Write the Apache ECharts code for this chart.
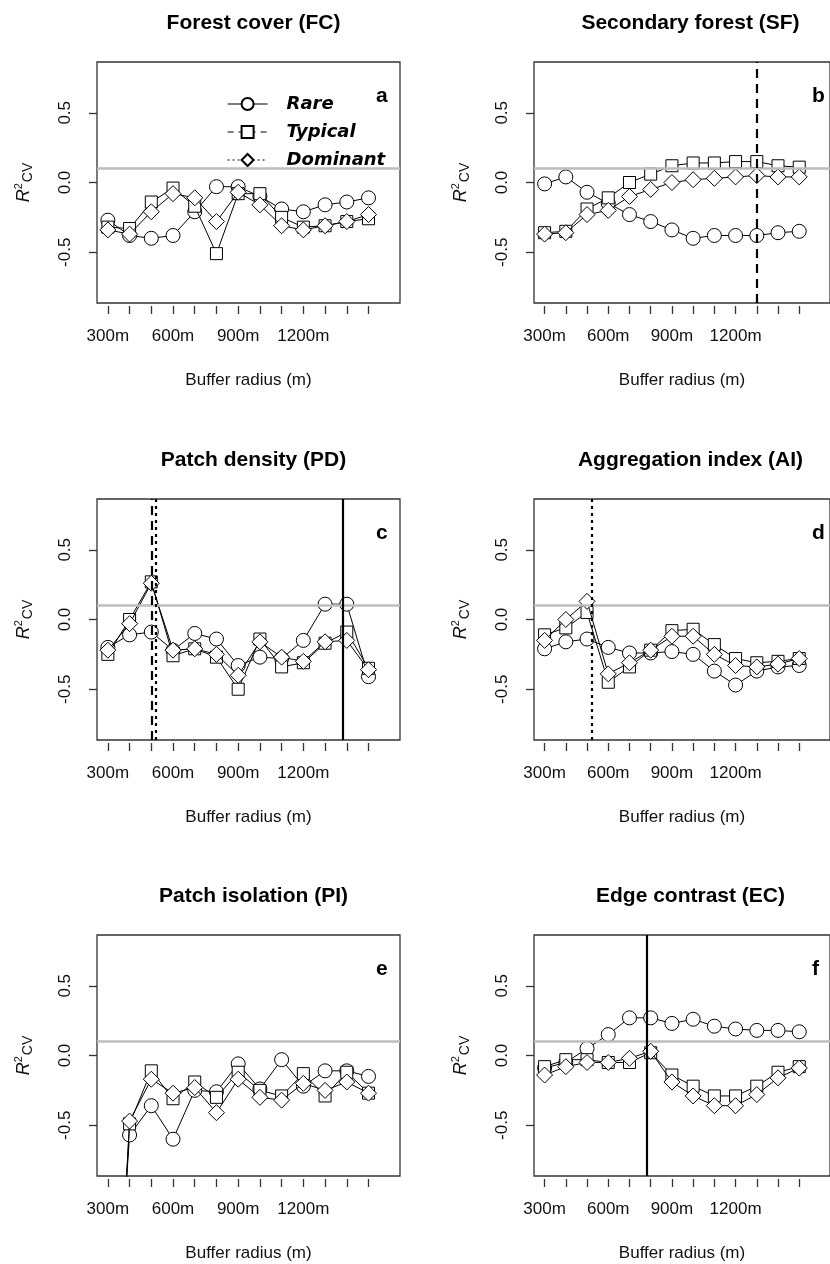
<!DOCTYPE html>
<html><head><meta charset="utf-8">
<script src="https://cdn.jsdelivr.net/npm/echarts@6/dist/echarts.min.js"></script>
<style>html,body{margin:0;padding:0;background:#fff}#c{width:830px;height:1264px}</style>
</head><body><div id="c"></div>
<script>
// ---------- data ----------
const radii = [300,400,500,600,700,800,900,1000,1100,1200,1300,1400,1500];
const xTickValues = [300,400,500,600,700,800,900,1000,1100,1200,1300,1400,1500];
const xLabelValues = [300,600,900,1200];
const yTickValues = [-0.5,0,0.5];
const panelTitles = ['Forest cover (FC)','Secondary forest (SF)','Patch density (PD)','Aggregation index (AI)','Patch isolation (PI)','Edge contrast (EC)'];
const panelLetters = ['a','b','c','d','e','f'];
const seriesNames = ['Rare','Typical','Dominant'];
const threshold = 0.1;

const fcRare     = [-0.27,-0.38,-0.40,-0.38,-0.21,-0.03,-0.03,-0.10,-0.19,-0.21,-0.16,-0.14,-0.11];
const fcTypical  = [-0.32,-0.33,-0.14,-0.04,-0.17,-0.51,-0.08,-0.08,-0.25,-0.32,-0.31,-0.28,-0.26];
const fcDominant = [-0.34,-0.37,-0.21,-0.08,-0.11,-0.28,-0.07,-0.16,-0.31,-0.34,-0.31,-0.28,-0.23];

const sfRare     = [-0.01,0.04,-0.07,-0.15,-0.23,-0.28,-0.34,-0.40,-0.38,-0.38,-0.38,-0.36,-0.35];
const sfTypical  = [-0.36,-0.35,-0.19,-0.11,0.00,0.06,0.12,0.14,0.14,0.15,0.15,0.12,0.11];
const sfDominant = [-0.37,-0.36,-0.23,-0.20,-0.10,-0.05,0.00,0.02,0.03,0.04,0.05,0.04,0.04];

const pdRare     = [-0.20,-0.11,-0.09,-0.22,-0.10,-0.14,-0.33,-0.27,-0.28,-0.15,0.11,0.11,-0.41];
const pdTypical  = [-0.25,0.00,0.27,-0.26,-0.21,-0.27,-0.50,-0.14,-0.34,-0.31,-0.17,-0.09,-0.35];
const pdDominant = [-0.22,-0.03,0.26,-0.22,-0.21,-0.25,-0.40,-0.16,-0.27,-0.30,-0.16,-0.15,-0.36];

const aiRare     = [-0.21,-0.16,-0.14,-0.20,-0.24,-0.24,-0.23,-0.25,-0.37,-0.47,-0.37,-0.34,-0.33];
const aiTypical  = [-0.11,-0.06,0.05,-0.45,-0.34,-0.22,-0.08,-0.07,-0.18,-0.28,-0.31,-0.30,-0.28];
const aiDominant = [-0.15,0.00,0.13,-0.39,-0.31,-0.22,-0.12,-0.12,-0.25,-0.33,-0.34,-0.32,-0.28];

const piRare     = [-2.9,-0.57,-0.36,-0.60,-0.25,-0.26,-0.06,-0.24,-0.03,-0.22,-0.11,-0.11,-0.15];
const piTypical  = [-3.3,-0.49,-0.11,-0.31,-0.19,-0.30,-0.12,-0.25,-0.29,-0.13,-0.29,-0.12,-0.27];
const piDominant = [-3.3,-0.47,-0.17,-0.27,-0.23,-0.41,-0.17,-0.30,-0.32,-0.20,-0.25,-0.19,-0.27];

const ecRare     = [-0.09,-0.05,0.05,0.15,0.27,0.27,0.23,0.26,0.21,0.19,0.18,0.18,0.17];
const ecTypical  = [-0.08,-0.03,-0.03,-0.05,-0.05,0.02,-0.14,-0.22,-0.29,-0.29,-0.22,-0.12,-0.08];
const ecDominant = [-0.14,-0.08,-0.05,-0.05,-0.02,0.03,-0.19,-0.29,-0.36,-0.36,-0.28,-0.16,-0.09];

// best buffer (vertical lines): [rare (solid), typical (dashed), dominant (dotted)]
const bestFC = [null,null,null];
const bestSF = [null,1300,null];
const bestPD = [1380,500,520];
const bestAI = [null,null,520];
const bestPI = [null,null,null];
const bestEC = [780,null,null];

const panelData = [
  [fcRare,fcTypical,fcDominant],
  [sfRare,sfTypical,sfDominant],
  [pdRare,pdTypical,pdDominant],
  [aiRare,aiTypical,aiDominant],
  [piRare,piTypical,piDominant],
  [ecRare,ecTypical,ecDominant]
];
const panelBest = [bestFC,bestSF,bestPD,bestAI,bestPI,bestEC];

// ---------- layout / style ----------
const colLeft = [97,534];
const rowTop = [62,499,935];
const gW = 303, gH = 241;
const X_MIN = 250, X_MAX = 1645, Y_MIN = -0.864, Y_MAX = 0.864;
const symbols = ['circle','rect','diamond'];
const symSizes = [14,12,16];
const vlineTypes = ['solid',[9,6],[3,4]];
const FONT = 'Liberation Sans, Arial, sans-serif';

const grids=[], xAxes=[], yAxes=[], series=[], titles=[], graphics=[];
for (let p=0;p<6;p++){
  const col = p%2, row = Math.floor(p/2);
  const L = colLeft[col], T = rowTop[row];
  grids.push({left:L, top:T, width:gW, height:gH, show:true, borderColor:'#333', borderWidth:1.3, backgroundColor:'transparent', containLabel:false});
  xAxes.push({
    type:'value', gridIndex:p, min:X_MIN, max:X_MAX, offset:3, position:'bottom',
    axisLine:{show:false, onZero:false}, splitLine:{show:false},
    axisTick:{show:true, length:8, lineStyle:{color:'#333',width:1.3}, customValues:xTickValues},
    axisLabel:{show:true, customValues:xLabelValues, formatter:v=>v+'m', fontSize:17, color:'#111', fontFamily:FONT, margin:22},
    name:'Buffer radius (m)', nameLocation:'middle', nameGap:66,
    nameTextStyle:{fontSize:17, color:'#111', fontFamily:FONT}
  });
  yAxes.push({
    type:'value', gridIndex:p, min:Y_MIN, max:Y_MAX, position:'left',
    axisLine:{show:false, onZero:false}, splitLine:{show:false},
    axisTick:{show:true, length:8, lineStyle:{color:'#333',width:1.3}, customValues:yTickValues},
    axisLabel:{show:true, customValues:yTickValues, rotate:90, fontSize:17, color:'#111', fontFamily:FONT, margin:23,
      formatter:v=>v.toFixed(1)},
    name:'{r|R}{sup|2}{sub|CV}', nameLocation:'middle', nameRotate:90, nameGap:62,
    nameTextStyle:{fontFamily:FONT, color:'#111', rich:{
      r:{fontSize:18, fontStyle:'italic', fontFamily:FONT, color:'#111', verticalAlign:'middle', lineHeight:22},
      sup:{fontSize:11, fontFamily:FONT, color:'#111', verticalAlign:'top', padding:[0,0,6,0]},
      sub:{fontSize:14, fontFamily:FONT, color:'#111', verticalAlign:'bottom', padding:[6,0,0,1]}
    }}
  });
  titles.push({text:panelTitles[p], left:L+gW/2, top:T-54, textAlign:'center',
    textStyle:{fontSize:21, fontWeight:'bold', color:'#000', fontFamily:FONT}});
  // reference lines series (threshold below data)
  series.push({
    type:'line', xAxisIndex:p, yAxisIndex:p, data:[], silent:true, z:1,
    markLine:{silent:true, symbol:'none', label:{show:false}, animation:false,
      lineStyle:{color:'#bdbdbd', width:2.5, type:'solid'},
      data:[{yAxis:threshold}]}
  });
  // data series
  for (let s=0;s<3;s++){
    const vals = panelData[p][s];
    series.push({
      name:seriesNames[s], type:'line', xAxisIndex:p, yAxisIndex:p, z:2+s,
      data: radii.map((r,i)=>[r, vals[i]]),
      symbol:symbols[s], symbolSize:symSizes[s], showAllSymbol:true, clip:true,
      lineStyle:{color:'#000', width:1},
      itemStyle:{color:'#fff', borderColor:'#000', borderWidth:1},
      emphasis:{disabled:true}, animation:false
    });
  }
  // best-buffer vertical lines on top
  const vl = [];
  panelBest[p].forEach((v,k)=>{ if(v!==null) vl.push({xAxis:v, lineStyle:{type:vlineTypes[k], color:'#000', width:2.2}}); });
  series.push({
    type:'line', xAxisIndex:p, yAxisIndex:p, data:[], silent:true, z:10,
    markLine:{silent:true, symbol:'none', label:{show:false}, animation:false, data:vl}
  });
  graphics.push({type:'text', left: col===0 ? 376 : 812, top: T+24,
    style:{text:panelLetters[p], font:'bold 21px '+FONT, fill:'#000'}});
}

const option = {
  animation:false,
  backgroundColor:'#fff',
  title:titles, grid:grids, xAxis:xAxes, yAxis:yAxes, series:series, graphic:graphics,
  legend:{
    left:222, top:90, orient:'vertical', itemWidth:40, itemHeight:15, itemGap:10,
    selectedMode:false,
    textStyle:{fontSize:18, fontStyle:'italic', fontWeight:'bold', color:'#000', fontFamily:'DejaVu Sans', padding:[0,0,0,14]},
    data:[
      {name:'Rare', lineStyle:{type:'solid', width:1.2, color:'#000'}},
      {name:'Typical', lineStyle:{type:[6,5], width:1.2, color:'#000'}},
      {name:'Dominant', lineStyle:{type:[2,3], width:1.2, color:'#000'}}
    ]
  }
};
const chart = echarts.init(document.getElementById('c'), null, {renderer:'canvas'});
chart.setOption(option);
</script></body></html>
